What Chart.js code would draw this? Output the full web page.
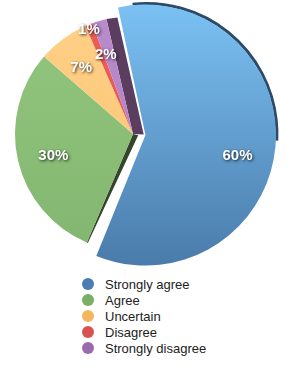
<!DOCTYPE html>
<html><head><meta charset="utf-8">
<script src="https://cdn.jsdelivr.net/npm/chart.js@4.4.1/dist/chart.umd.min.js"></script>
<style>
html,body{margin:0;padding:0;background:#fff;}
#wrap{position:relative;width:292px;height:368px;overflow:hidden;}
#c{position:absolute;left:0;top:0;}
#legend{position:absolute;left:82px;top:276px;font-family:"Liberation Sans",Arial,sans-serif;font-size:13px;color:#222;}
.row{height:16px;display:flex;align-items:center;white-space:nowrap;}
.dot{width:12px;height:12px;border-radius:50%;margin-right:11px;flex:none;}
</style></head><body>
<div id="wrap"><canvas id="c" width="292" height="270"></canvas><div id="legend"></div></div>
<script>
const categories = ["Strongly agree", "Agree", "Uncertain", "Disagree", "Strongly disagree"];
const values = [60, 30, 7, 1, 2];
const valueLabels = ["60%", "30%", "7%", "1%", "2%"];

const sliceTop = ["#7ac0f2", "#93c77f", "#ffd088", "#ee5e58", "#b98ccc"];
const sliceBottom = ["#4a7cab", "#82b56f", "#fbc46e", "#e2504c", "#ad7ec0"];
const legendColors = ["#4a7db3", "#78b067", "#f3b85d", "#d9524f", "#9a6aae"];
const labelFrac = [0.80, 0.70, 0.71, 0.96, 0.71];
const labelShiftDeg = [7.9, -2.4, -1.8, -0.9, -2.3];

function arcGeom(arc) {
  const off = (arc.options.offset || 0) / 4;
  const circ = arc.endAngle - arc.startAngle;
  const fix = 1 - Math.sin(Math.min(Math.PI, circ || 0));
  const mid = (arc.startAngle + arc.endAngle) / 2;
  return {dx: Math.cos(mid) * off, dy: Math.sin(mid) * off, r: arc.outerRadius + off * fix};
}

const sidePlugin = {
  id: 'sides',
  beforeDatasetsDraw(chart) {
    const ctx = chart.ctx;
    const arcs = chart.getDatasetMeta(0).data;
    ctx.save();
    // dark side wall next to the last (purple) slice
    const p = arcs[4];
    const R = p.outerRadius;
    const e = p.endAngle;
    const nx = -Math.sin(e), ny = Math.cos(e);
    const w = 11;
    ctx.beginPath();
    ctx.moveTo(p.x, p.y);
    ctx.lineTo(p.x + Math.cos(e) * R, p.y + Math.sin(e) * R);
    ctx.lineTo(p.x + Math.cos(e) * (R - 1) + nx * w, p.y + Math.sin(e) * (R - 1) + ny * w);
    ctx.lineTo(p.x + nx * w, p.y + ny * w + 3);
    ctx.closePath();
    ctx.fillStyle = '#5a3d5f';
    ctx.fill();
    // dark side wall next to green slice
    const g = arcs[1];
    const s = g.startAngle;
    const mx = Math.sin(s), my = -Math.cos(s);
    const w2 = 3.5;
    ctx.beginPath();
    ctx.moveTo(g.x, g.y);
    ctx.lineTo(g.x + Math.cos(s) * R, g.y + Math.sin(s) * R);
    ctx.lineTo(g.x + Math.cos(s) * R + mx * 1, g.y + Math.sin(s) * R + my * 1);
    ctx.lineTo(g.x + mx * w2 + 2, g.y + my * w2);
    ctx.closePath();
    ctx.fillStyle = '#34452b';
    ctx.fill();
    // dark rim on the exploded slice
    const b = arcs[0];
    const gb = arcGeom(b);
    ctx.beginPath();
    ctx.arc(b.x + gb.dx + 1, b.y + gb.dy - 1, gb.r, b.startAngle + 0.12, 0.05);
    ctx.strokeStyle = '#2d4b69';
    ctx.lineWidth = 3;
    ctx.stroke();
    ctx.restore();
  },
  afterDatasetsDraw(chart) {
    const ctx = chart.ctx;
    const arcs = chart.getDatasetMeta(0).data;
    ctx.save();
    ctx.font = 'bold 15px "Liberation Sans", Arial, sans-serif';
    ctx.textAlign = 'center';
    ctx.textBaseline = 'middle';
    ctx.fillStyle = '#ffffff';
    ctx.shadowColor = 'rgba(0,0,0,0.8)';
    ctx.shadowBlur = 3;
    ctx.shadowOffsetX = 1;
    ctx.shadowOffsetY = 1;
    arcs.forEach((a, i) => {
      const gm = arcGeom(a);
      const mid = (a.startAngle + a.endAngle) / 2 + labelShiftDeg[i] * Math.PI / 180;
      const r = a.outerRadius * labelFrac[i];
      ctx.fillText(valueLabels[i], a.x + gm.dx + Math.cos(mid) * r, a.y + gm.dy + Math.sin(mid) * r);
    });
    ctx.restore();
  }
};

new Chart(document.getElementById('c'), {
  type: 'pie',
  data: {
    labels: categories,
    datasets: [{
      data: values,
      radius: 118,
      clip: false,
      borderWidth: 0,
      offset: [50, 0, 0, 0, 0],
      hoverOffset: 0,
      backgroundColor: (c) => {
        const chart = c.chart;
        const area = chart.chartArea;
        if (!area) return sliceTop[c.dataIndex];
        const grad = chart.ctx.createLinearGradient(0, 8, 0, 262);
        grad.addColorStop(0, sliceTop[c.dataIndex]);
        grad.addColorStop(1, sliceBottom[c.dataIndex]);
        return grad;
      }
    }]
  },
  options: {
    responsive: false,
    animation: false,
    rotation: -13,
    layout: {padding: {left: 0, right: 26, top: 0, bottom: 2}},
    plugins: {legend: {display: false}, tooltip: {enabled: false}}
  },
  plugins: [sidePlugin]
});

const lg = document.getElementById('legend');
categories.forEach((name, i) => {
  const row = document.createElement('div');
  row.className = 'row';
  const dot = document.createElement('span');
  dot.className = 'dot';
  dot.style.background = legendColors[i];
  const txt = document.createElement('span');
  txt.textContent = name;
  row.appendChild(dot);
  row.appendChild(txt);
  lg.appendChild(row);
});
</script>
</body></html>
